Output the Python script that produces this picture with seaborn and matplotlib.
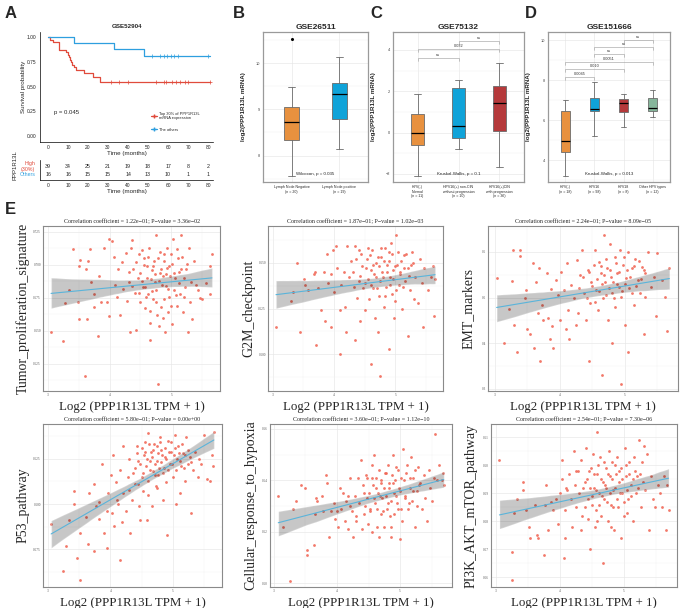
import matplotlib
matplotlib.use("Agg")
import matplotlib.pyplot as plt
import seaborn as sns
import numpy as np
from matplotlib.lines import Line2D
from matplotlib.ticker import AutoMinorLocator, FixedLocator

# ---------------- data ----------------
# A: Kaplan-Meier (GSE52904)
km_high_t = [0, 1, 2.5, 5.5, 9, 10, 10.5, 11, 11.5, 12, 13, 14, 18, 22.5, 26, 81]
km_high_s = [1, .974, .949, .872, .846, .821, .795, .769, .744, .718, .692, .667, .641, .595, .541, .541]
km_high_cens = [31.5, 35.3, 40.2, 53.8, 57.8, 58.8, 61.8, 63.9, 66, 68.3, 70.1, 81]
km_oth_t = [0, 13, 33, 48, 81]
km_oth_s = [1, .9375, .875, .8125, .8125]
km_oth_cens = [51.8, 56, 58, 59.6, 61.3, 62.9, 64.9, 80]
risk_times = [0, 10, 20, 30, 40, 50, 60, 70, 80]
risk_high = [39, 34, 25, 21, 19, 18, 17, 8, 2]
risk_oth = [16, 16, 15, 15, 14, 13, 10, 1, 1]

# B-D: box summaries (whislo, q1, med, q3, whishi)
b_groups = ["Lymph Node Negative\n(n = 20)", "Lymph Node positive\n(n = 19)"]
b_stats = [(7.56, 8.33, 8.72, 9.04, 9.48), (8.15, 8.80, 9.33, 9.57, 10.13)]
b_fliers = [[10.52], []]
c_groups = ["HPV(-)\nNormal\n(n = 11)", "HPV16(+) non-CIN\nwithout progression\n(n = 10)",
            "HPV16(+)CIN\nwith progression\n(n = 36)"]
c_stats = [(-2.1, -0.6, 0.0, 0.88, 1.85), (-0.8, -0.27, 0.3, 2.18, 2.55), (-1.65, 0.1, 1.42, 2.25, 3.35)]
d_groups = ["HPV(-)\n(n = 18)", "HPV16\n(n = 98)", "HPV18\n(n = 8)", "Other HPV types\n(n = 12)"]
d_stats = [(3.2, 4.4, 4.95, 6.45, 7.0), (5.2, 6.45, 6.55, 7.1, 7.9),
           (5.65, 6.4, 6.85, 7.05, 7.3), (6.15, 6.45, 6.6, 7.1, 7.5)]
c_pairs = [(1, 2, "ns"), (1, 3, "0.032"), (2, 3, "ns")]
d_pairs = [(1, 2, "0.0045"), (1, 3, "0.010"), (1, 4, "0.0051"), (2, 3, "ns"), (2, 4, "ns"), (3, 4, "ns")]

# E: correlation scatter (x = log2 PPP1R13L TPM+1, y = signature score)
tumor_prolif = [(3.05,.649),(3.24,.642),(3.28,.671),(3.34,.681),(3.41,.712),(3.48,.672),(3.50,.659),(3.52,.704),
    (3.51,.699),(3.61,.697),(3.65,.703),(3.64,.659),(3.68,.712),(3.70,.687),(3.74,.678),(3.74,.668),(3.81,.646),
    (3.83,.692),(3.86,.672),(3.91,.713),(3.96,.672),(3.99,.720),(4.04,.718),(3.99,.661),(4.07,.706),(4.08,.685),
    (4.12,.676),(4.13,.697),(4.17,.662),(4.20,.702),(4.22,.682),(4.26,.709),(4.28,.673),(4.32,.687),(4.34,.713),
    (4.36,.719),(4.33,.649),(4.38,.697),(4.41,.679),(4.43,.651),(4.46,.690),(4.48,.708),(4.50,.672),(4.52,.711),
    (4.54,.683),(4.56,.700),(4.58,.667),(4.59,.676),(4.61,.690),(4.64,.713),(4.65,.643),(4.66,.656),(4.68,.696),
    (4.69,.680),(4.72,.703),(4.73,.687),(4.75,.672),(4.76,.723),(4.77,.662),(4.78,.610),(4.80,.654),(4.81,.694),
    (4.82,.710),(4.85,.685),(4.88,.674),(4.89,.703),(4.90,.649),(4.91,.693),(4.93,.713),(4.94,.664),(4.95,.682),
    (4.97,.699),(4.99,.708),(5.00,.669),(5.02,.655),(5.03,.720),(5.06,.690),(5.08,.677),(5.11,.705),(5.13,.686),
    (5.15,.723),(5.16,.697),(5.19,.664),(5.21,.676),(5.24,.697),(5.27,.649),(5.29,.713),(5.32,.687),(5.34,.659),
    (5.37,.703),(5.40,.685),(5.43,.681),(5.47,.675),(5.50,.674),(5.57,.686),(5.63,.699),(5.63,.678),(5.66,.708),
    (3.60,.616),(4.31,.695),(4.37,.684),(4.42,.702),(4.47,.679),(4.49,.694),(4.53,.688),(4.55,.705),(4.57,.683),
    (4.60,.699),(4.62,.678),(4.63,.706),(4.67,.689),(4.70,.674),(4.71,.699),(4.74,.693),(4.76,.681),(4.79,.705),
    (4.80,.688),(4.83,.697),(4.84,.668),(4.87,.692),(4.88,.708),(4.92,.684),(4.93,.698),(4.96,.676),(4.98,.692),
    (5.01,.701),(5.04,.681),(5.05,.694),(5.09,.712),(5.10,.669),(5.12,.695),(5.14,.678),(5.18,.706),(5.20,.690),
    (5.23,.683),(5.26,.701),(5.30,.672),(4.66,.665),(4.86,.660)]
g2m = [(3.05,.615),(3.29,.629),(3.33,.634),(3.40,.650),(3.51,.641),(3.52,.638),(3.58,.635),(3.67,.644),(3.69,.645),
    (3.73,.636),(3.79,.624),(3.83,.645),(3.89,.655),(3.90,.639),(3.95,.644),(3.98,.657),(4.00,.634),(4.03,.659),
    (4.04,.647),(4.09,.624),(4.12,.638),(4.16,.645),(4.18,.626),(4.21,.659),(4.24,.642),(4.28,.651),(4.33,.637),
    (4.35,.659),(4.38,.631),(4.41,.657),(4.43,.643),(4.46,.648),(4.50,.624),(4.51,.639),(4.54,.652),(4.56,.658),
    (4.57,.630),(4.60,.646),(4.63,.636),(4.64,.649),(4.67,.620),(4.69,.642),(4.72,.653),(4.74,.632),(4.76,.658),
    (4.78,.645),(4.81,.626),(4.82,.651),(4.85,.637),(4.86,.649),(4.89,.656),(4.91,.642),(4.93,.661),(4.95,.633),
    (4.97,.646),(4.99,.629),(5.01,.665),(5.03,.649),(5.06,.638),(5.08,.644),(5.11,.625),(5.14,.654),(5.16,.640),
    (5.20,.647),(5.24,.635),(5.27,.656),(5.29,.650),(5.33,.642),(5.37,.628),(5.40,.652),(5.44,.639),(5.47,.647),
    (5.53,.635),(5.58,.642),(5.61,.648),(5.63,.621),(5.65,.641),(3.45,.612),(3.70,.605),(4.10,.600),(4.35,.608),
    (4.60,.595),(4.90,.603),(5.20,.610),(4.75,.588),(3.95,.615),(5.45,.615),(4.31,.645),(4.36,.652),(4.40,.640),
    (4.44,.655),(4.47,.636),(4.52,.647),(4.55,.641),(4.58,.654),(4.61,.638),(4.62,.657),(4.66,.644),(4.68,.650),
    (4.70,.636),(4.73,.648),(4.75,.640),(4.77,.653),(4.80,.642),(4.83,.658),(4.84,.632),(4.87,.645),(4.90,.651),
    (4.92,.638),(4.94,.655),(4.96,.641),(5.00,.648),(5.02,.635),(5.04,.656),(5.07,.645),(5.10,.651),(5.13,.637),
    (5.15,.647),(5.18,.655),(5.22,.643),(5.25,.649),(4.42,.618),(4.71,.612),(4.98,.620),(5.30,.630),(3.85,.618),
    (4.20,.612)]
emt = [(3.03,.542),(3.22,.475),(3.27,.536),(3.28,.604),(3.39,.605),(3.39,.591),(3.47,.499),(3.48,.517),(3.59,.575),
    (3.63,.535),(3.66,.466),(3.68,.564),(3.73,.484),(3.80,.553),(3.82,.455),(3.87,.518),(3.89,.437),(3.95,.538),
    (3.97,.506),(4.02,.556),(4.07,.517),(4.11,.575),(4.13,.473),(4.17,.527),(4.22,.499),(4.27,.582),(4.29,.466),
    (4.32,.549),(4.35,.604),(4.38,.509),(4.40,.451),(4.43,.560),(4.47,.488),(4.49,.535),(4.53,.571),(4.55,.604),
    (4.56,.517),(4.59,.473),(4.61,.578),(4.64,.553),(4.67,.499),(4.69,.638),(4.70,.535),(4.72,.585),(4.74,.451),
    (4.77,.560),(4.78,.618),(4.81,.509),(4.82,.535),(4.85,.589),(4.86,.480),(4.89,.553),(4.91,.524),(4.93,.604),
    (4.95,.502),(4.98,.571),(5.00,.440),(5.02,.542),(5.05,.600),(5.07,.520),(5.11,.564),(5.14,.484),(5.16,.585),
    (5.20,.538),(5.24,.509),(5.27,.567),(5.31,.553),(5.32,.502),(5.36,.600),(5.40,.524),(5.45,.546),(5.49,.459),
    (5.50,.597),(5.58,.538),(5.63,.502),(5.66,.426),(5.69,.564),(3.55,.420),(3.90,.390),(4.15,.410),(4.45,.360),
    (4.65,.330),(4.80,.400),(5.05,.380),(5.30,.420),(4.25,.440),(4.95,.310),(4.30,.520),(4.36,.545),(4.42,.500),
    (4.46,.555),(4.50,.525),(4.54,.490),(4.58,.540),(4.60,.515),(4.63,.570),(4.66,.530),(4.68,.550),(4.71,.505),
    (4.73,.565),(4.76,.520),(4.79,.545),(4.83,.500),(4.87,.575),(4.88,.530),(4.92,.555),(4.96,.515),(4.99,.590),
    (5.01,.530),(5.04,.560),(5.08,.545),(5.12,.510),(5.15,.570),(5.18,.525),(5.22,.580),(5.26,.540),(5.30,.560),
    (3.15,.400),(3.35,.380),(3.50,.430),(3.70,.360),(3.85,.410),(4.00,.450),(3.30,.440),(3.60,.390),(4.10,.430),
    (3.75,.450)]
p53 = [(3.05,.589),(3.24,.563),(3.29,.577),(3.33,.591),(3.41,.607),(3.42,.600),(3.47,.570),(3.51,.558),(3.52,.584),
    (3.61,.593),(3.64,.578),(3.65,.606),(3.73,.611),(3.74,.574),(3.77,.599),(3.81,.601),(3.82,.592),(3.87,.622),
    (3.90,.584),(3.94,.576),(3.96,.606),(4.01,.616),(4.02,.595),(4.04,.627),(4.06,.588),(4.09,.612),(4.12,.600),
    (4.15,.619),(4.16,.569),(4.18,.590),(4.20,.632),(4.21,.606),(4.25,.596),(4.28,.615),(4.30,.625),(4.32,.584),
    (4.34,.602),(4.36,.617),(4.39,.611),(4.42,.632),(4.44,.624),(4.46,.599),(4.47,.591),(4.50,.615),(4.52,.607),
    (4.54,.627),(4.55,.634),(4.57,.621),(4.59,.591),(4.60,.639),(4.61,.613),(4.63,.624),(4.65,.629),(4.67,.599),
    (4.68,.618),(4.70,.633),(4.72,.622),(4.73,.610),(4.76,.628),(4.77,.616),(4.79,.637),(4.81,.623),(4.82,.630),
    (4.84,.602),(4.86,.620),(4.88,.626),(4.89,.612),(4.91,.583),(4.93,.635),(4.95,.622),(4.98,.629),(5.00,.615),
    (5.03,.638),(5.05,.600),(5.07,.625),(5.08,.632),(5.11,.606),(5.14,.621),(5.16,.628),(5.19,.613),(5.21,.637),
    (5.24,.622),(5.27,.626),(5.29,.595),(5.32,.619),(5.36,.629),(5.40,.615),(5.42,.625),(5.46,.622),(5.50,.638),
    (5.55,.614),(5.60,.613),(5.63,.627),(5.64,.621),(5.66,.640),(4.40,.620),(4.43,.628),(4.48,.622),(4.51,.631),
    (4.53,.617),(4.56,.629),(4.58,.625),(4.62,.633),(4.64,.619),(4.66,.626),(4.69,.630),(4.71,.616),(4.74,.632),
    (4.75,.624),(4.78,.620),(4.80,.634),(4.83,.627),(4.85,.617),(4.87,.631),(4.90,.625),(4.92,.619),(4.94,.629),
    (4.97,.634),(4.99,.622),(5.02,.627),(5.04,.631),(5.06,.619),(5.10,.628),(5.12,.624),(5.15,.633),(5.18,.620),
    (5.20,.627),(5.25,.630),(5.30,.623),(4.30,.608),(4.45,.611),(4.60,.605),(4.75,.609),(3.95,.596),(4.10,.602)]
hypoxia = [(3.07,.634),(3.14,.622),(3.26,.601),(3.31,.629),(3.35,.632),(3.43,.638),(3.49,.637),(3.52,.611),
    (3.53,.613),(3.63,.615),(3.65,.627),(3.66,.633),(3.69,.632),(3.76,.634),(3.78,.628),(3.82,.642),(3.84,.639),
    (3.87,.618),(3.91,.628),(3.95,.631),(3.97,.625),(4.02,.622),(4.04,.637),(4.07,.629),(4.09,.635),(4.12,.624),
    (4.15,.632),(4.17,.621),(4.18,.634),(4.21,.641),(4.23,.628),(4.25,.618),(4.28,.634),(4.30,.626),(4.33,.641),
    (4.35,.631),(4.38,.648),(4.39,.621),(4.42,.635),(4.43,.627),(4.46,.642),(4.47,.633),(4.49,.623),(4.52,.629),
    (4.55,.646),(4.57,.638),(4.59,.650),(4.60,.631),(4.62,.641),(4.63,.622),(4.65,.635),(4.67,.618),(4.69,.627),
    (4.69,.639),(4.72,.633),(4.74,.622),(4.76,.643),(4.77,.634),(4.79,.629),(4.81,.646),(4.82,.637),(4.85,.618),
    (4.86,.632),(4.88,.650),(4.89,.639),(4.91,.627),(4.93,.634),(4.94,.645),(4.96,.629),(4.98,.637),(5.01,.641),
    (5.03,.624),(5.05,.652),(5.07,.634),(5.10,.643),(5.12,.629),(5.15,.637),(5.17,.649),(5.19,.632),(5.21,.641),
    (5.24,.622),(5.27,.636),(5.29,.645),(5.32,.639),(5.34,.629),(5.37,.642),(5.40,.633),(5.42,.624),(5.45,.644),
    (5.47,.637),(5.50,.632),(5.53,.641),(5.55,.658),(5.59,.640),(5.62,.646),(5.66,.640),(5.68,.643),(5.69,.638),
    (4.41,.638),(4.44,.630),(4.48,.641),(4.50,.635),(4.53,.628),(4.56,.641),(4.58,.633),(4.61,.637),(4.64,.629),
    (4.66,.644),(4.68,.634),(4.70,.640),(4.73,.628),(4.75,.637),(4.78,.643),(4.80,.631),(4.83,.639),(4.84,.626),
    (4.87,.642),(4.90,.635),(4.92,.640),(4.95,.631),(4.97,.644),(5.00,.636),(5.02,.629),(5.06,.640),(5.08,.633),
    (5.11,.646),(5.14,.631),(5.16,.641),(5.20,.636),(5.23,.644),(5.26,.630),(5.30,.638),(4.30,.624),(4.55,.620),
    (4.85,.622),(5.00,.617),(4.20,.630),(4.00,.628)]
pi3k = [(3.06,.602),(3.26,.569),(3.29,.583),(3.26,.559),(3.34,.588),(3.42,.594),(3.42,.591),(3.48,.584),(3.52,.578),
    (3.53,.574),(3.61,.586),(3.65,.575),(3.66,.574),(3.76,.568),(3.77,.586),(3.79,.593),(3.82,.577),(3.86,.587),
    (3.90,.584),(3.94,.588),(3.98,.579),(4.00,.590),(4.03,.595),(4.04,.602),(4.06,.567),(4.08,.574),(4.09,.584),
    (4.12,.591),(4.15,.597),(4.17,.588),(4.20,.578),(4.22,.605),(4.24,.593),(4.26,.585),(4.28,.598),(4.30,.590),
    (4.33,.602),(4.34,.577),(4.36,.592),(4.39,.585),(4.41,.606),(4.43,.595),(4.45,.581),(4.47,.570),(4.49,.599),
    (4.50,.589),(4.52,.604),(4.54,.592),(4.55,.578),(4.56,.584),(4.58,.612),(4.59,.597),(4.61,.590),(4.63,.603),
    (4.65,.582),(4.67,.594),(4.68,.565),(4.70,.588),(4.72,.599),(4.73,.592),(4.75,.580),(4.77,.605),(4.79,.596),
    (4.80,.586),(4.82,.601),(4.84,.591),(4.85,.577),(4.88,.597),(4.90,.603),(4.91,.585),(4.93,.594),(4.95,.574),
    (4.96,.599),(4.98,.590),(5.01,.582),(5.02,.606),(5.04,.596),(5.07,.588),(5.08,.601),(5.11,.593),(5.14,.580),
    (5.16,.603),(5.19,.590),(5.21,.596),(5.24,.609),(5.27,.585),(5.29,.601),(5.32,.607),(5.34,.591),(5.37,.604),
    (5.40,.577),(5.42,.596),(5.45,.588),(5.49,.585),(5.53,.593),(5.56,.590),(5.60,.585),(5.63,.596),(5.66,.577),
    (5.67,.593),(5.70,.584),(4.40,.594),(4.44,.588),(4.46,.598),(4.48,.592),(4.51,.586),(4.53,.597),(4.57,.591),
    (4.60,.600),(4.62,.586),(4.64,.595),(4.66,.589),(4.69,.601),(4.71,.593),(4.74,.587),(4.76,.597),(4.78,.590),
    (4.81,.595),(4.83,.585),(4.86,.600),(4.87,.592),(4.89,.588),(4.92,.598),(4.94,.590),(4.97,.595),(5.00,.587),
    (5.03,.600),(5.05,.591),(5.09,.597),(5.12,.589),(5.15,.595),(5.18,.598),(5.22,.592),(5.26,.597),(5.30,.594),
    (4.35,.582),(4.58,.580),(4.80,.578),(5.05,.583),(4.25,.598),(4.10,.592)]

# ---------------- style ----------------
W, H = 681, 608
sns.set_theme(style="white")
plt.rcParams['font.family'] = ['Liberation Sans', 'DejaVu Sans']
SERIF = ['Liberation Serif', 'DejaVu Serif']
RED, BLUE = '#E04B3C', '#2E9FDF'
BOX_COLS = ['#E8913F', '#0FA3D9', '#B5393B', '#86B69B']

fig = plt.figure(figsize=(W / 100, H / 100), dpi=100)


def px_axes(l, t, r, b):
    return fig.add_axes([l / W, 1 - b / H, (r - l) / W, (b - t) / H])


for lab, x, y in [("A", 5, 13), ("B", 233, 13), ("C", 370, 13), ("D", 525, 13), ("E", 5, 210)]:
    fig.text(x / W, 1 - y / H, lab, fontsize=12, fontweight='bold', va='center', ha='left')

# ---------------- A: survival ----------------
ax = px_axes(40, 32, 213, 142)
for t, s, cens, col in [(km_high_t, km_high_s, km_high_cens, RED), (km_oth_t, km_oth_s, km_oth_cens, BLUE)]:
    sns.lineplot(x=t, y=s, ax=ax, color=col, lw=0.9, drawstyle='steps-post')
    idx = np.searchsorted(t, cens, side='right') - 1
    ax.plot(cens, np.array(s)[idx], ls='none', marker='+', ms=2.5, mew=0.5, color=col)
ax.set_xlim(-4, 82.5)
ax.set_ylim(-0.06, 1.05)
ax.set_xticks(risk_times)
ax.set_yticks([0, .25, .5, .75, 1])
ax.set_yticklabels(['0.00', '0.25', '0.50', '0.75', '1.00'])
ax.tick_params(labelsize=3.5, length=1.5, width=0.4, pad=1, colors='#222222')
for sp in ['top', 'right']:
    ax.spines[sp].set_visible(False)
for sp in ['left', 'bottom']:
    ax.spines[sp].set_linewidth(0.5)
    ax.spines[sp].set_color('black')
ax.set_xlabel('Time (months)', fontsize=4.5, labelpad=0.5)
ax.set_ylabel('Survival probability', fontsize=4.5, labelpad=1)
ax.set_title('GSE52904', fontsize=4.5, fontweight='bold', pad=3)
ax.text(3, 0.22, 'p = 0.045', fontsize=4.3)
handles = [Line2D([], [], color=RED, marker='+', ms=2.5, lw=0.9),
           Line2D([], [], color=BLUE, marker='+', ms=2.5, lw=0.9)]
ax.legend(handles, ['Top 30% of PPP1R13L\nmRNA expression', 'The others'], loc=(0.63, 0.08),
          frameon=False, fontsize=2.9, handlelength=1.5, labelspacing=1.8, handletextpad=0.5)

# risk table
ax = px_axes(40, 160, 213, 180)
for yv, vals, col in [(1, risk_high, RED), (0, risk_oth, BLUE)]:
    for tt, v in zip(risk_times, vals):
        ax.text(tt, yv, str(v), ha='center', va='center', fontsize=3.8, color='#222222')
ax.set_xlim(-4, 82.5)
ax.set_ylim(-0.75, 1.75)
ax.set_xticks(risk_times)
ax.set_yticks([1, 0])
ax.set_yticklabels(['High\n(30%)', 'Others'])
for lbl, col in zip(ax.get_yticklabels(), [RED, BLUE]):
    lbl.set_color(col)
ax.tick_params(axis='y', labelsize=3.8, length=1.5, width=0.4, pad=2)
ax.tick_params(axis='x', labelsize=3.5, length=1.5, width=0.4, pad=1, colors='#222222')
for sp in ['top', 'right']:
    ax.spines[sp].set_visible(False)
for sp in ['left', 'bottom']:
    ax.spines[sp].set_linewidth(0.5)
    ax.spines[sp].set_color('black')
ax.set_xlabel('Time (months)', fontsize=4.5, labelpad=0.5)
fig.text(15 / W, 1 - 165 / H, 'PPP1R13L', rotation=90, fontsize=4.3, va='center', ha='center')


# ---------------- B-D: box panels ----------------
def box_panel(l, t, r, b, stats, fliers, groups, ylim, yticks, title, stat_text, pairs, hook):
    ax = px_axes(l, t, r, b)
    n = len(stats)
    bstats = [dict(whislo=s[0], q1=s[1], med=s[2], q3=s[3], whishi=s[4], fliers=f)
              for s, f in zip(stats, fliers)]
    bp = ax.bxp(bstats, positions=range(1, n + 1), widths=0.3, patch_artist=True,
                boxprops=dict(edgecolor='#6b6b6b', lw=0.6),
                medianprops=dict(color='black', lw=0.9),
                whiskerprops=dict(color='#6b6b6b', lw=0.6),
                capprops=dict(color='#6b6b6b', lw=0.6), capwidths=0.15,
                flierprops=dict(marker='o', ms=1.2, mfc='black', mec='black'))
    for patch, c in zip(bp['boxes'], BOX_COLS):
        patch.set_facecolor(c)
    ax.set_xlim(0.4, n + 0.6)
    ax.set_ylim(*ylim)
    ax.yaxis.set_major_locator(FixedLocator(yticks))
    ax.yaxis.set_minor_locator(AutoMinorLocator(2))
    ax.set_xticks(range(1, n + 1))
    ax.set_xticklabels(groups, fontsize=2.6, linespacing=1.1)
    ax.tick_params(axis='y', labelsize=2.8, length=1, width=0.3, pad=1, colors='#444444')
    ax.tick_params(axis='x', length=1, width=0.3, pad=1.5)
    ax.grid(True, which='major', color='#E4E4E4', lw=0.4)
    ax.grid(True, which='minor', axis='y', color='#F0F0F0', lw=0.3)
    ax.set_axisbelow(True)
    for sp in ax.spines.values():
        sp.set_color('#9a9a9a')
        sp.set_linewidth(0.9)
    ax.set_title(title, fontsize=6, fontweight='bold', pad=2)
    ax.set_ylabel('log2(PPP1R13L mRNA)', fontsize=4.5, fontweight='bold', labelpad=5)
    ax.text(0.5, 0.045, stat_text, transform=ax.transAxes, ha='center', fontsize=3.2, color='#222222')
    for x1, x2, y, lab in pairs:
        ax.plot([x1, x1, x2, x2], [y - hook, y, y, y - hook], color='#9a9a9a', lw=0.4)
        ax.text((x1 + x2) / 2, y + hook * 0.3, lab, ha='center', va='bottom', fontsize=2.8, color='#333333')
    return ax


box_panel(263, 32, 368, 182, b_stats, b_fliers, b_groups, (7.43, 10.67), [8, 9, 10],
          'GSE26511', 'Wilcoxon, p = 0.035', [], 0.1)
c_br = [(p[0], p[1], y, p[2]) for p, y in zip(c_pairs, [3.61, 4.05, 4.43])]
box_panel(393, 32, 524, 182, c_stats, [[]] * 3, c_groups, (-2.39, 4.87), [-2, 0, 2, 4],
          'GSE75132', 'Kruskal-Wallis, p = 0.1', c_br, 0.15)
d_br = [(p[0], p[1], y, p[2]) for p, y in zip(d_pairs, [8.15, 8.55, 8.9, 9.3, 9.65, 10.0])]
box_panel(548, 32, 670, 182, d_stats, [[]] * 4, d_groups, (2.9, 10.4), [4, 6, 8, 10],
          'GSE151666', 'Kruskal-Wallis, p = 0.013', d_br, 0.15)


# ---------------- E: correlation panels ----------------
def corr_panel(l, t, r, b, pts, ylab, title, ylim, yticks, fmt):
    ax = px_axes(l, t, r, b)
    x, y = np.array(pts).T
    sns.scatterplot(x=x, y=y, ax=ax, s=4, color='#F0604F', alpha=0.85, linewidth=0)
    sns.regplot(x=x, y=y, ax=ax, scatter=False, color='black', seed=1, line_kws=dict(lw=0))
    ax.collections[-1].set_alpha(0.22)
    sns.regplot(x=x, y=y, ax=ax, scatter=False, ci=None, color='#5AB4DA', line_kws=dict(lw=0.8))
    span = x.max() - x.min()
    ax.set_xlim(x.min() - 0.05 * span, x.max() + 0.05 * span)
    ax.set_ylim(*ylim)
    ax.xaxis.set_major_locator(FixedLocator([3, 4, 5, 6]))
    ax.xaxis.set_minor_locator(AutoMinorLocator(2))
    ax.yaxis.set_major_locator(FixedLocator(yticks))
    ax.yaxis.set_minor_locator(AutoMinorLocator(2))
    ax.set_yticklabels([fmt.format(v) for v in yticks])
    ax.tick_params(labelsize=2.4, length=1, width=0.3, pad=0.5, colors='#555555')
    for lbl in ax.get_xticklabels() + ax.get_yticklabels():
        lbl.set_family(SERIF)
    ax.grid(True, which='major', color='#E6E6E6', lw=0.45)
    ax.grid(True, which='minor', color='#F2F2F2', lw=0.3)
    ax.set_axisbelow(True)
    for sp in ax.spines.values():
        sp.set_color('#8a8a8a')
        sp.set_linewidth(0.8)
    ax.set_title(title, fontsize=4.3, family=SERIF, pad=2)
    ax.set_ylabel(ylab, fontsize=10, family=SERIF, labelpad=2)
    ax.set_xlabel('Log2 (PPP1R13L TPM + 1)', fontsize=9.3, family=SERIF, labelpad=0)
    return ax


corr_panel(43, 226, 220, 391, tumor_prolif, 'Tumor_proliferation_signature',
           'Correlation coefficient = 1.22e\u221201; P\u2212value = 3.36e\u221202',
           (0.6045, 0.7295), [0.625, 0.65, 0.675, 0.70, 0.725], '{:.3f}')
corr_panel(268, 226, 443, 391, g2m, 'G2M_checkpoint',
           'Correlation coefficient = 1.87e\u221201; P\u2212value = 1.02e\u221203',
           (0.580, 0.670), [0.600, 0.625, 0.650], '{:.3f}')
corr_panel(488, 226, 678, 391, emt, 'EMT_markers',
           'Correlation coefficient = 2.24e\u221201; P\u2212value = 8.09e\u221205',
           (0.295, 0.657), [0.3, 0.4, 0.5, 0.6], '{:.1f}')
corr_panel(43, 424, 222, 587, p53, 'P53_pathway',
           'Correlation coefficient = 5.80e\u221201; P\u2212value = 0.00e+00',
           (0.5542, 0.6442), [0.575, 0.600, 0.625], '{:.3f}')
corr_panel(270, 424, 452, 587, hypoxia, 'Cellular_response_to_hypoxia',
           'Correlation coefficient = 3.60e\u221201; P\u2212value = 1.12e\u221210',
           (0.5985, 0.6619), [0.60, 0.62, 0.64, 0.66], '{:.2f}')
corr_panel(491, 424, 677, 587, pi3k, 'PI3K_AKT_mTOR_pathway',
           'Correlation coefficient = 2.54e\u221201; P\u2212value = 7.30e\u221206',
           (0.5566, 0.6147), [0.56, 0.57, 0.58, 0.59, 0.60, 0.61], '{:.2f}')

fig.savefig('out.png', dpi=100)
